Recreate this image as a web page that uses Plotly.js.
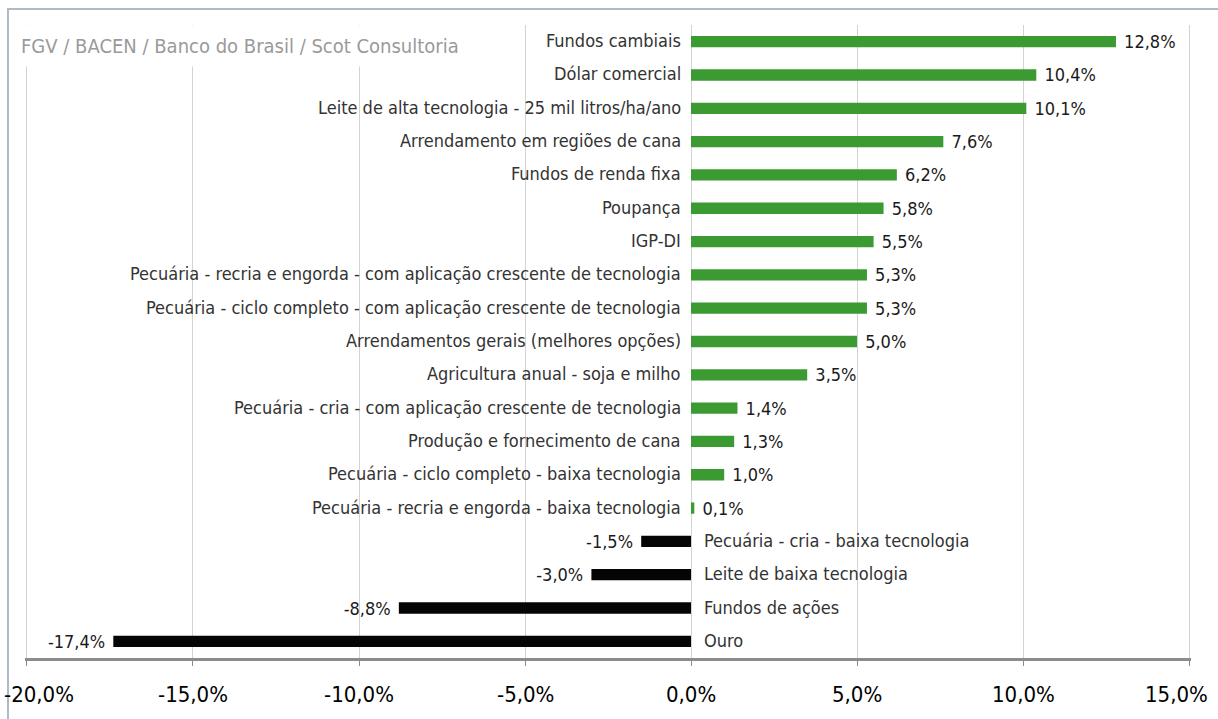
<!DOCTYPE html>
<html>
<head>
<meta charset="utf-8">
<script src="https://cdn.plot.ly/plotly-3.0.1.min.js"></script>
<style>
html,body{margin:0;padding:0;background:#fff;}
#chart{width:1218px;height:719px;}
</style>
</head>
<body>
<div id="chart"></div>
<script>
// Categories from top to bottom
const categories = [
  "Fundos cambiais",
  "Dólar comercial",
  "Leite de alta tecnologia - 25 mil litros/ha/ano",
  "Arrendamento em regiões de cana",
  "Fundos de renda fixa",
  "Poupança",
  "IGP-DI",
  "Pecuária - recria e engorda - com aplicação crescente de tecnologia",
  "Pecuária - ciclo completo - com aplicação crescente de tecnologia",
  "Arrendamentos gerais (melhores opções)",
  "Agricultura anual - soja e milho",
  "Pecuária - cria - com aplicação crescente de tecnologia",
  "Produção e fornecimento de cana",
  "Pecuária - ciclo completo - baixa tecnologia",
  "Pecuária - recria e engorda - baixa tecnologia",
  "Pecuária - cria - baixa tecnologia",
  "Leite de baixa tecnologia",
  "Fundos de ações",
  "Ouro"
];
const values = [12.8, 10.4, 10.1, 7.6, 6.2, 5.8, 5.5, 5.3, 5.3, 5.0, 3.5, 1.4, 1.3, 1.0, 0.1, -1.5, -3.0, -8.8, -17.4];
const tickValues = [-20, -15, -10, -5, 0, 5, 10, 15];
const tickLabels = ["-20,0%", "-15,0%", "-10,0%", "-5,0%", "0,0%", "5,0%", "10,0%", "15,0%"];
const sourceText = "FGV / BACEN / Banco do Brasil / Scot Consultoria";

const FONT = '"DejaVu Sans Condensed", "Liberation Sans Narrow", "Roboto", sans-serif';
const GREEN = '#3c9a32';
const BLACK = '#050505';

const fmt = v => v.toFixed(1).replace('.', ',') + '%';

const trace = {
  type: 'bar',
  orientation: 'h',
  y: categories,
  x: values,
  marker: {color: values.map(v => v >= 0 ? GREEN : BLACK), line: {width: 0}},
  text: values.map(v => v >= 0 ? '\u00a0' + fmt(v) : fmt(v) + '\u00a0'),
  textposition: 'outside',
  cliponaxis: false,
  constraintext: 'none',
  textfont: {family: FONT, size: 18, color: '#1a1a1a'},
  hoverinfo: 'skip'
};

// category labels beside the zero line
const annotations = categories.map((c, i) => ({
  x: 0, y: c, xref: 'x', yref: 'y',
  text: c,
  showarrow: false,
  xanchor: values[i] >= 0 ? 'right' : 'left',
  xshift: values[i] >= 0 ? -8 : 11,
  yshift: 1,
  font: {family: FONT, size: 18, color: '#333'}
}));

// x tick labels (edge labels pulled inward as in the original)
tickValues.forEach((v, i) => {
  const first = i === 0, last = i === tickValues.length - 1;
  annotations.push({
    x: v, y: 0, xref: 'x', yref: 'paper',
    text: tickLabels[i],
    showarrow: false,
    xanchor: first ? 'left' : (last ? 'right' : 'center'),
    xshift: first ? -25 : (last ? 21 : 0),
    yanchor: 'top',
    yshift: -22,
    font: {family: FONT, size: 22, color: '#000'}
  });
});

annotations.push({
  xref: 'paper', yref: 'paper',
  x: -0.011, y: 1.0,
  xanchor: 'left', yanchor: 'top',
  yshift: 0,
  text: sourceText,
  showarrow: false,
  bgcolor: '#ffffff',
  borderpad: 8,
  font: {family: FONT, size: 20, color: '#9a9a9a'}
});

const layout = {
  width: 1218, height: 719,
  margin: {l: 25, r: 27, t: 25, b: 61},
  paper_bgcolor: '#fff', plot_bgcolor: '#fff',
  showlegend: false,
  bargap: 0.66,
  xaxis: {
    range: [-20.06, 15.06],
    tickvals: tickValues,
    ticktext: tickLabels,
    showticklabels: false,
    showgrid: true, gridcolor: '#d3d3d3', gridwidth: 1,
    zeroline: false,
    showline: true, linecolor: '#8c8c8c', linewidth: 3,
    ticks: 'outside', ticklen: 5, tickcolor: '#8c8c8c', tickwidth: 1,
    fixedrange: true
  },
  yaxis: {
    type: 'category',
    categoryorder: 'array',
    categoryarray: categories,
    autorange: 'reversed',
    showticklabels: false,
    showgrid: false, zeroline: false, showline: false, ticks: '',
    fixedrange: true
  },
  annotations: annotations,
  shapes: [{
    type: 'rect', xref: 'paper', yref: 'paper',
    x0: -0.0146, x1: 1.024, y0: -0.2, y1: 1.0253,
    line: {color: '#aebbc6', width: 2}, fillcolor: 'rgba(0,0,0,0)', layer: 'below'
  }]
};

Plotly.newPlot('chart', [trace], layout, {displayModeBar: false, staticPlot: true});
</script>
</body>
</html>
